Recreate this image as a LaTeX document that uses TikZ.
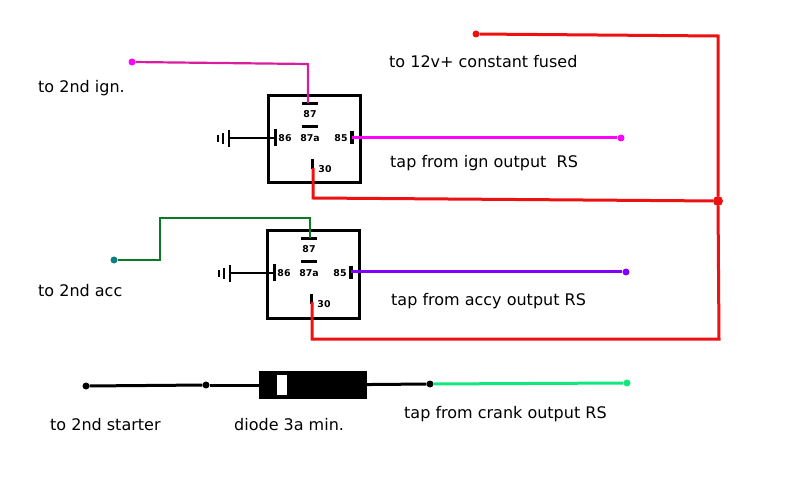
\documentclass[tikz,border=0pt]{standalone}
\usepackage{fontspec}
\setmainfont{DejaVu Sans}
\usepackage{xcolor}
\definecolor{redw}{HTML}{EE1111}
\definecolor{pinkw}{HTML}{FF00FF}
\definecolor{ignw}{HTML}{D81E9C}
\definecolor{grnw}{HTML}{0B7A22}
\definecolor{tealw}{HTML}{0E8080}
\definecolor{purpw}{HTML}{8000FF}
\definecolor{mintw}{HTML}{10E87C}
\tikzset{
  wire/.style={line width=3pt, line join=miter},
  thin wire/.style={line width=2.2pt, line join=miter},
  bar/.style={draw=black, line width=3pt},
  relaybox/.style={draw=black, line width=3pt},
  pt/.style={circle, fill=#1, inner sep=0pt, minimum size=7pt},
  lab/.style={anchor=west, inner sep=0pt, font=\fontsize{16}{18}\selectfont},
  pin/.style={inner sep=0pt, font=\bfseries\fontsize{9.4}{10}\selectfont}
}
\begin{document}
\begin{tikzpicture}[x=1pt, y=-1pt]
  \useasboundingbox (0,0) rectangle (801,497);
  % two relays, same drawing
  \foreach \nm/\dx/\dy/\gx in {ign/0/0/0, acc/-1/135/2}{
    \begin{scope}[shift={(\dx,\dy)}]
      \draw[relaybox] (268,95.5) rectangle (360,183);
      \draw[bar] (302,103.5) -- (318,103.5);
      \draw[bar] (302,126.5) -- (318,126.5);
      \draw[bar] (275.5,129) -- (275.5,146);
      \draw[line width=4pt] (352,131) -- (352,144);
      \draw[bar] (312,159) -- (312,169);
      \draw[line width=2.4pt] (229+\gx,138) -- (275,138);
      \draw[line width=2.4pt] (229+\gx,130) -- (229+\gx,147);
      \draw[line width=2.4pt] (223+\gx,133) -- (223+\gx,144);
      \draw[line width=2.4pt] (218+\gx,135) -- (218+\gx,142);
      \node[pin] (\nm87) at (310,114.5) {87};
      \node[pin] (\nm87a) at (310,138.5) {87a};
      \node[pin] (\nm86) at (285,138.5) {86};
      \node[pin] (\nm85) at (341,138.5) {85};
      \node[pin] (\nm30) at (325,169.5) {30};
    \end{scope}
  }
  % ignition relay wires
  \node[pt=pinkw] (ign) at (132,62) {};
  \coordinate (ignb) at (308,64);
  \coordinate (ignc) at (308,103);
  \draw[thin wire, ignw] (ign) -- (ignb) -- (ignc);
  \node[pt=pinkw] (ignout) at (621,138) {};
  \coordinate (ignf) at (352,138);
  \draw[wire, pinkw] (ignf) -- (ignout);
  % accessory relay wires
  \node[pt=tealw] (acc) at (114,260) {};
  \coordinate (acca) at (160,260);
  \coordinate (accb) at (160,218);
  \coordinate (accc) at (310,218);
  \coordinate (accd) at (310,238);
  \draw[thin wire, grnw] (acc) -- (acca) -- (accb) -- (accc) -- (accd);
  \node[pt=purpw] (accout) at (626,272) {};
  \coordinate (accf) at (351,272);
  \draw[wire, purpw] (accf) -- (accout);
  % constant feed
  \node[pt=redw] (feed) at (476,34) {};
  \node[pt=redw, minimum size=10pt] (jct) at (718,201) {};
  \coordinate (fa) at (718,36);
  \coordinate (fb) at (719,339);
  \coordinate (fc) at (312,339);
  \coordinate (fd) at (312,302);
  \coordinate (ge) at (313,168);
  \coordinate (gf) at (313,198);
  \draw[wire, redw] (feed) -- (fa) -- (jct) -- (fb) -- (fc) -- (fd);
  \draw[wire, redw] (ge) -- (gf) -- (jct);
  % diode leg
  \node[pt=black] (st) at (86,386) {};
  \node[pt=black] (mid) at (206,385) {};
  \node[pt=black] (crk) at (430,384) {};
  \node[pt=mintw] (crkout) at (627,383) {};
  \node[fill=black, inner sep=0pt, minimum width=108pt, minimum height=28pt] (dio) at (313,385) {};
  \fill[white] (277,375) rectangle (287,395);
  \draw[wire] (st) -- (mid);
  \draw[wire] (mid) -- (dio);
  \draw[wire] (dio) -- (crk);
  \draw[wire, mintw] (crk) -- (crkout);
  % labels
  \node[lab] (t1) at (38,88) {to 2nd ign.};
  \node[lab] (t2) at (389,62) {to 12v+ constant fused};
  \node[lab] (t3) at (390,163) {tap from ign output\ \ RS};
  \node[lab] (t4) at (38,291) {to 2nd acc};
  \node[lab] (t5) at (391,301) {tap from accy output RS};
  \node[lab] (t6) at (50,425) {to 2nd starter};
  \node[lab] (t7) at (234,425) {diode 3a min.};
  \node[lab] (t8) at (404,414) {tap from crank output RS};
\end{tikzpicture}
\end{document}
